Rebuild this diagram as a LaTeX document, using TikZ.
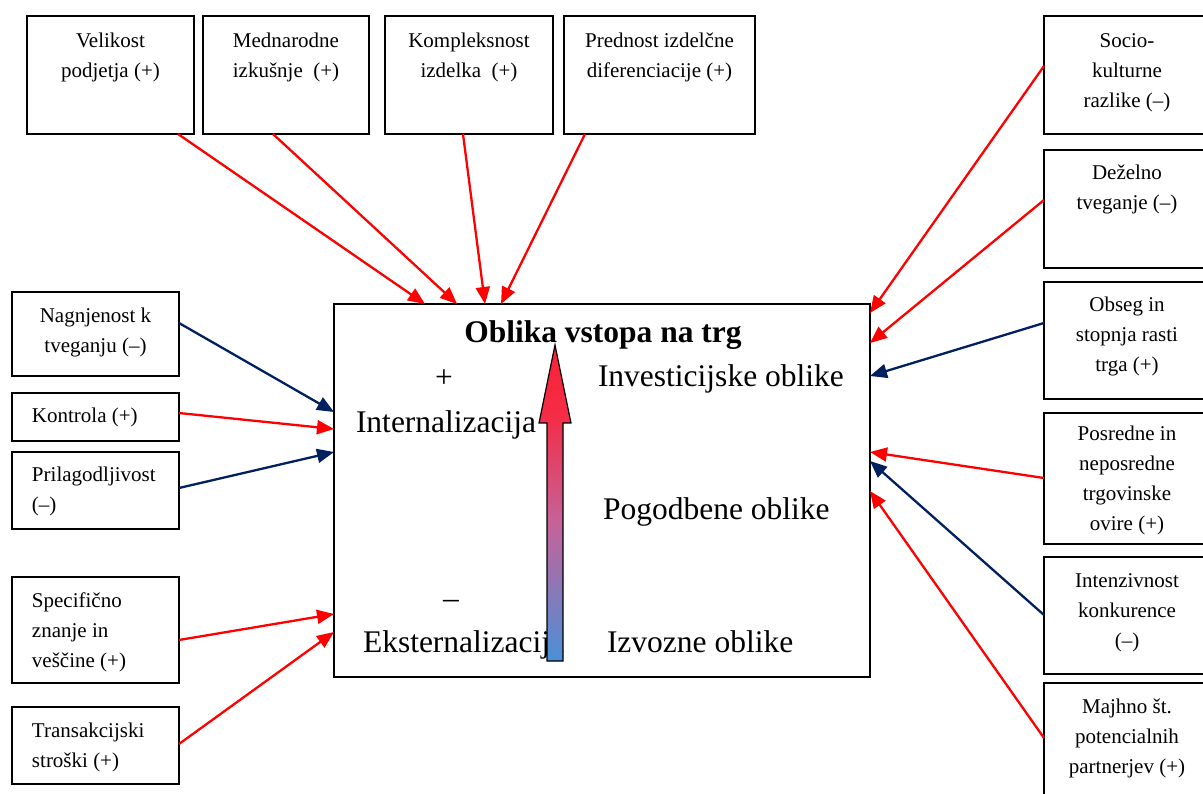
\documentclass[tikz,border=0pt]{standalone}
\usepackage{fontspec}
\setmainfont{Liberation Serif}
\usetikzlibrary{arrows.meta,calc}

\definecolor{linkred}{RGB}{255,0,0}
\definecolor{linkblue}{RGB}{0,32,96}

% red-to-blue scale for the central arrow (25bp..75bp spans the path)
\pgfdeclareverticalshading{scaleshade}{100bp}{%
  color(0bp)=(rgb,255:red,74;green,144;blue,216);
  color(25bp)=(rgb,255:red,74;green,144;blue,216);
  color(47bp)=(rgb,255:red,198;green,98;blue,152);
  color(64bp)=(rgb,255:red,244;green,44;blue,70);
  color(75bp)=(rgb,255:red,250;green,34;blue,56);
  color(100bp)=(rgb,255:red,250;green,34;blue,56)}

% #1 width, #2 height, #3 alignment, #4 first baseline below top, #5 text
\newcommand\boxtxt[5]{\begin{minipage}[c][#2][t]{#1}#3\rule{0pt}{#4}\ignorespaces#5\end{minipage}}

\tikzset{
  factor/.style={draw, line width=1.3pt, inner sep=0pt, outer sep=0pt,
    anchor=north west, font=\fontsize{21}{30}\selectfont},
  bigtxt/.style={inner sep=0pt, outer sep=0pt, anchor=base west,
    font=\fontsize{31.5}{36}\selectfont},
  redlink/.style={draw=linkred, line width=2.3pt, -{Triangle[length=17pt,width=14pt]}},
  bluelink/.style={draw=linkblue, line width=2.3pt, -{Triangle[length=17pt,width=14pt]}},
}
\newcommand\lefttxt{\raggedright\leftskip=20pt\relax}

\begin{document}
\begin{tikzpicture}[x=1pt, y=-1pt]
\useasboundingbox (0,0) rectangle (1203,794);
\clip (0,0) rectangle (1203,794);
\fill[white] (0,0) rectangle (1203,794);

% top factors
\node[factor] (vel) at (27,16)  {\boxtxt{167pt}{118pt}{\centering}{32pt}{Velikost\\podjetja (+)}};
\node[factor] (med) at (203,16) {\boxtxt{166pt}{118pt}{\centering}{32pt}{Mednarodne\\izkušnje\ \ (+)}};
\node[factor] (kom) at (385,16) {\boxtxt{168pt}{118pt}{\centering}{32pt}{Kompleksnost\\izdelka\ \ (+)}};
\node[factor] (pre) at (564,16) {\boxtxt{191pt}{118pt}{\centering}{32pt}{Prednost izdelčne\\diferenciacije (+)}};

% right factors
\node[factor] (soc) at (1044,16)  {\boxtxt{166pt}{118pt}{\centering}{32pt}{Socio-\\kulturne\\razlike (–)}};
\node[factor] (dez) at (1044,150) {\boxtxt{166pt}{118pt}{\centering}{30pt}{Deželno\\tveganje (–)}};
\node[factor] (obs) at (1044,282) {\boxtxt{166pt}{117pt}{\centering}{30pt}{Obseg in\\stopnja rasti\\trga (+)}};
\node[factor] (pos) at (1044,413) {\boxtxt{166pt}{131pt}{\centering}{28pt}{Posredne in\\neposredne\\trgovinske\\ovire (+)}};
\node[factor] (int) at (1044,557) {\boxtxt{166pt}{117pt}{\centering}{30pt}{Intenzivnost\\konkurence\\(–)}};
\node[factor] (maj) at (1044,683) {\boxtxt{166pt}{125pt}{\centering}{30pt}{Majhno št.\\potencialnih\\partnerjev (+)}};

% left factors
\node[factor] (nag) at (12,292) {\boxtxt{167pt}{84pt}{\centering}{31pt}{Nagnjenost k\\tveganju (–)}};
\node[factor] (kon) at (12,393) {\boxtxt{167pt}{48pt}{\lefttxt}{30pt}{Kontrola (+)}};
\node[factor] (pri) at (12,452) {\boxtxt{167pt}{77pt}{\lefttxt}{30pt}{Prilagodljivost\\(–)}};
\node[factor] (spe) at (12,577) {\boxtxt{167pt}{106pt}{\lefttxt}{30pt}{Specifično\\znanje in\\veščine (+)}};
\node[factor] (tra) at (12,707) {\boxtxt{167pt}{77pt}{\lefttxt}{30pt}{Transakcijski\\stroški (+)}};

% central box
\node[draw, line width=1.3pt, inner sep=0pt, outer sep=0pt, anchor=north west,
      minimum width=536pt, minimum height=373pt] (main) at (334,304) {};

% influences from the top
\draw[redlink] ($(vel.south west)+(151,0)$) -- ($(main.north west)+(91,0)$);
\draw[redlink] ($(med.south west)+(70,0)$)  -- ($(main.north west)+(123,0)$);
\draw[redlink] ($(kom.south west)+(78,0)$)  -- ($(main.north west)+(151,0)$);
\draw[redlink] ($(pre.south west)+(21,0)$)  -- ($(main.north west)+(167,0)$);

% influences from the right
\draw[redlink]  ($(soc.north west)+(0,50)$) -- ($(main.north east)+(0,9)$);
\draw[redlink]  ($(dez.north west)+(0,50)$) -- ($(main.north east)+(0,39)$);
\draw[bluelink] ($(obs.north west)+(0,41)$) -- ($(main.north east)+(0,72)$);
\draw[redlink]  ($(pos.north west)+(0,65)$) -- ($(main.north east)+(0,148)$);
\draw[bluelink] ($(int.north west)+(0,58)$) -- ($(main.north east)+(0,157)$);
\draw[redlink]  ($(maj.north west)+(0,55)$) -- ($(main.north east)+(0,187)$);

% influences from the left
\draw[bluelink] ($(nag.north east)+(0,31)$) -- ($(main.north west)+(0,108)$);
\draw[redlink]  ($(kon.north east)+(0,20)$) -- ($(main.north west)+(0,125)$);
\draw[bluelink] ($(pri.north east)+(0,36)$) -- ($(main.north west)+(0,148)$);
\draw[redlink]  ($(spe.north east)+(0,63)$) -- ($(main.north west)+(0,310)$);
\draw[redlink]  ($(tra.north east)+(0,37)$) -- ($(main.north west)+(0,328)$);

% contents of the central box
\node[bigtxt, anchor=base, font=\bfseries\fontsize{31.5}{36}\selectfont] (title) at (603,343) {Oblika vstopa na trg};
\node[bigtxt, anchor=base] (plus) at (444,388) {+};
\node[bigtxt] (intl) at (356,432) {Internalizacija};
\node[bigtxt] (inv)  at (598,387) {Investicijske oblike};
\node[bigtxt] (pog)  at (603,519) {Pogodbene oblike};
\node[bigtxt, anchor=base] (minus) at (451,608) {–};
\node[bigtxt] (ext)  at (363,652) {Eksternalizacija};
\node[bigtxt] (izv)  at (607,652) {Izvozne oblike};

% scale arrow from externalisation to internalisation
\shadedraw[shading=scaleshade, draw=black, line width=1.2pt, line join=miter]
  (547,661) -- (547,423) -- (539,423) -- (555,345) -- (571,423) -- (563,423) -- (563,661) -- cycle;
\end{tikzpicture}
\end{document}
